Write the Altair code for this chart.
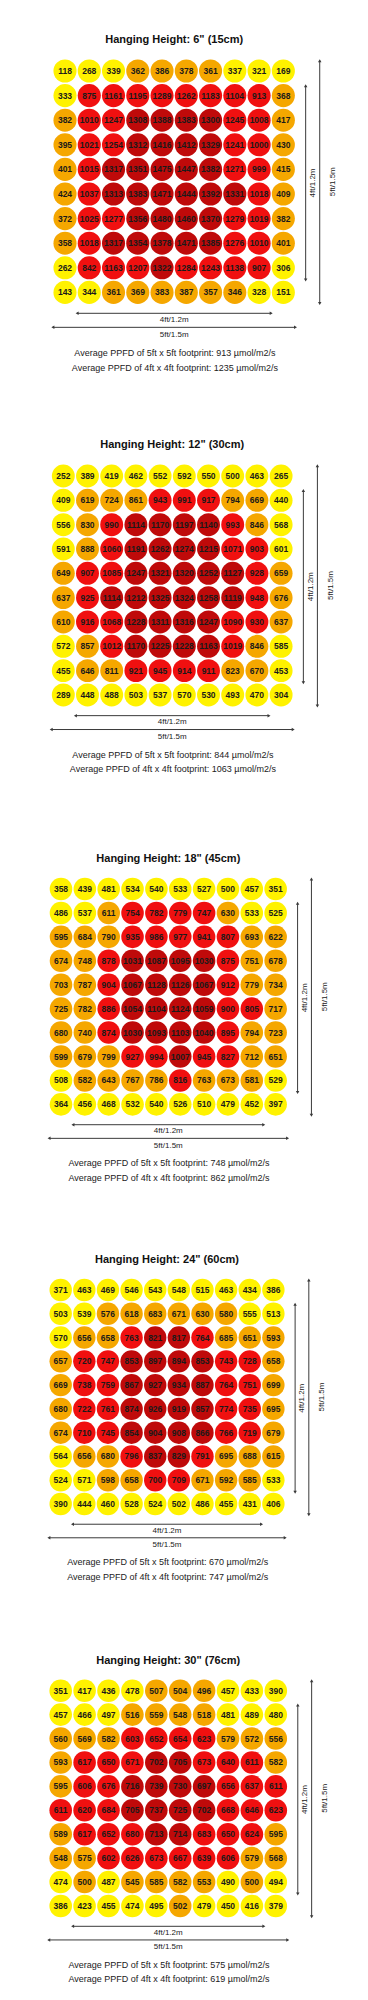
import altair as alt
import pandas as pd

FONT = "Liberation Sans"

TITLES = ['Hanging Height: 6" (15cm)', 'Hanging Height: 12" (30cm)',
          'Hanging Height: 18" (45cm)', 'Hanging Height: 24" (60cm)',
          'Hanging Height: 30" (76cm)']
AVG_5FT = [913, 844, 748, 670, 575]
AVG_4FT = [1235, 1063, 862, 747, 619]

PPFD_6IN = [
    [118, 268, 339, 362, 386, 378, 361, 337, 321, 169],
    [333, 875, 1161, 1195, 1289, 1262, 1183, 1104, 913, 368],
    [382, 1010, 1247, 1308, 1388, 1383, 1300, 1245, 1008, 417],
    [395, 1021, 1254, 1312, 1416, 1412, 1329, 1241, 1000, 430],
    [401, 1015, 1317, 1351, 1475, 1447, 1382, 1271, 999, 415],
    [424, 1037, 1313, 1383, 1471, 1444, 1392, 1331, 1018, 409],
    [372, 1025, 1277, 1356, 1480, 1460, 1370, 1279, 1019, 382],
    [358, 1018, 1317, 1354, 1378, 1471, 1385, 1276, 1010, 401],
    [262, 842, 1163, 1207, 1322, 1284, 1243, 1138, 907, 306],
    [143, 344, 361, 369, 383, 387, 357, 346, 328, 151],
]
LEVEL_6IN = ["0001111000", "0222222221", "1223333221", "1223333221", "1233333221",
             "1233333321", "1223333221", "1233333221", "0222322220", "0011111100"]

PPFD_12IN = [
    [252, 389, 419, 462, 552, 592, 550, 500, 463, 265],
    [409, 619, 724, 861, 943, 991, 917, 794, 669, 440],
    [556, 830, 990, 1114, 1170, 1197, 1140, 993, 846, 568],
    [591, 888, 1060, 1191, 1262, 1274, 1215, 1071, 903, 601],
    [649, 907, 1085, 1247, 1321, 1320, 1252, 1127, 928, 659],
    [637, 925, 1114, 1212, 1325, 1324, 1258, 1119, 948, 676],
    [610, 916, 1068, 1228, 1311, 1316, 1247, 1090, 930, 637],
    [572, 857, 1012, 1170, 1225, 1228, 1163, 1019, 846, 585],
    [455, 646, 811, 921, 945, 914, 911, 823, 670, 453],
    [289, 448, 488, 503, 537, 570, 530, 493, 470, 304],
]
LEVEL_12IN = ["0000000000", "0111222110", "0123333210", "0123333220", "1223333321",
              "1233333321", "1223333221", "0123333210", "0112222110", "0000000000"]

PPFD_18IN = [
    [358, 439, 481, 534, 540, 533, 527, 500, 457, 351],
    [486, 537, 611, 754, 782, 779, 747, 630, 533, 525],
    [595, 684, 790, 935, 986, 977, 941, 807, 693, 622],
    [674, 748, 878, 1031, 1087, 1095, 1030, 875, 751, 678],
    [703, 787, 904, 1067, 1128, 1126, 1067, 912, 779, 734],
    [725, 782, 886, 1054, 1104, 1124, 1059, 900, 805, 717],
    [680, 740, 874, 1030, 1093, 1103, 1040, 895, 794, 723],
    [599, 679, 799, 927, 994, 1007, 945, 827, 712, 651],
    [508, 582, 643, 767, 786, 816, 763, 673, 581, 529],
    [364, 456, 468, 532, 540, 526, 510, 479, 452, 397],
]
LEVEL_18IN = ["0000000000", "0012222100", "1112222211", "1123333211", "1123333211",
              "1123333221", "1123333211", "1112232211", "0111121110", "0000000000"]

PPFD_24IN = [
    [371, 463, 469, 546, 543, 548, 515, 463, 434, 386],
    [503, 539, 576, 618, 683, 671, 630, 580, 555, 513],
    [570, 656, 658, 763, 821, 817, 764, 685, 651, 593],
    [657, 720, 747, 853, 897, 894, 853, 743, 728, 658],
    [669, 738, 759, 867, 927, 934, 887, 764, 751, 699],
    [680, 722, 761, 874, 926, 919, 857, 774, 735, 695],
    [674, 710, 745, 854, 904, 908, 866, 766, 719, 679],
    [564, 656, 680, 796, 837, 829, 791, 695, 688, 615],
    [524, 571, 598, 658, 700, 709, 671, 592, 585, 533],
    [390, 444, 460, 528, 524, 502, 486, 455, 431, 406],
]
LEVEL_24IN = ["0000000000", "0011111100", "0112332111", "1223333221", "1223333221",
              "1223333221", "1223333221", "0112332111", "0011221110", "0000000000"]

PPFD_30IN = [
    [351, 417, 436, 478, 507, 504, 496, 457, 433, 390],
    [457, 466, 497, 516, 559, 548, 518, 481, 489, 480],
    [560, 569, 582, 603, 652, 654, 623, 579, 572, 556],
    [593, 617, 650, 671, 702, 705, 673, 640, 611, 582],
    [595, 606, 676, 716, 739, 730, 697, 656, 637, 611],
    [611, 620, 684, 705, 737, 725, 702, 668, 646, 623],
    [589, 617, 652, 680, 713, 714, 683, 650, 624, 595],
    [548, 575, 602, 626, 673, 667, 639, 606, 579, 568],
    [474, 500, 487, 545, 585, 582, 553, 490, 500, 494],
    [386, 423, 455, 474, 495, 502, 479, 450, 416, 379],
]
LEVEL_30IN = ["0000111000", "0001111000", "1112222111", "1222332221", "1223333222",
              "2223333222", "1222332221", "1122222211", "0101111010", "0000010000"]

PPFD = [PPFD_6IN, PPFD_12IN, PPFD_18IN, PPFD_24IN, PPFD_30IN]
LEVELS = [LEVEL_6IN, LEVEL_12IN, LEVEL_18IN, LEVEL_24IN, LEVEL_30IN]

LEVEL_COLORS = ["#fff200", "#f5a700", "#f01010", "#bf0a0a"]

# panel geometry (pixels): grid origin, cell spacing, panel top and height
LAYOUT = [
    dict(x0=65.0, sx=24.26, y0=71.0, sy=24.6, top=8, h=412),
    dict(x0=63.3, sx=24.2, y0=476.0, sy=24.33, top=420, h=410),
    dict(x0=61.0, sx=23.85, y0=889.0, sy=23.93, top=830, h=395),
    dict(x0=60.7, sx=23.63, y0=1290.0, sy=23.78, top=1225, h=400),
    dict(x0=60.7, sx=23.9, y0=1690.7, sy=23.92, top=1625, h=367),
]
PANEL_W = 352

# dimension arrows in grid units
ARROWS = pd.DataFrame([
    {"x": 0.5, "x2": 8.5, "y": 9.85, "y2": 9.85},
    {"x": -0.5, "x2": 9.5, "y": 10.42, "y2": 10.42},
    {"x": 9.92, "x2": 9.92, "y": 0.6, "y2": 8.5},
    {"x": 10.5, "x2": 10.5, "y": -0.42, "y2": 9.45},
])
HEADS = pd.DataFrame([
    {"x": 0.5, "y": 9.85, "shape": "triangle-left"},
    {"x": 8.5, "y": 9.85, "shape": "triangle-right"},
    {"x": -0.5, "y": 10.42, "shape": "triangle-left"},
    {"x": 9.5, "y": 10.42, "shape": "triangle-right"},
    {"x": 9.92, "y": 0.6, "shape": "triangle-up"},
    {"x": 9.92, "y": 8.5, "shape": "triangle-down"},
    {"x": 10.5, "y": -0.42, "shape": "triangle-up"},
    {"x": 10.5, "y": 9.45, "shape": "triangle-down"},
])
H_LABELS = pd.DataFrame([
    {"x": 4.5, "y": 10.13, "t": "4ft/1.2m"},
    {"x": 4.5, "y": 10.73, "t": "5ft/1.5m"},
])
V_LABELS = pd.DataFrame([
    {"x": 10.23, "y": 4.55, "t": "4ft/1.2m"},
    {"x": 11.05, "y": 4.5, "t": "5ft/1.5m"},
])


def panel(i):
    g = LAYOUT[i]
    xa = -(g["x0"] - 8) / g["sx"]
    xb = xa + PANEL_W / g["sx"]
    ya = -(g["y0"] - g["top"]) / g["sy"]
    yb = ya + g["h"] / g["sy"]
    xs = alt.Scale(domain=[xa, xb], nice=False, zero=False)
    ys = alt.Scale(domain=[ya, yb], nice=False, zero=False, reverse=True)
    X = lambda f="x": alt.X(f"{f}:Q", scale=xs, axis=None)
    Y = lambda f="y": alt.Y(f"{f}:Q", scale=ys, axis=None)

    cells = pd.DataFrame([
        {"x": c, "y": r, "v": PPFD[i][r][c], "lvl": int(LEVELS[i][r][c])}
        for r in range(10) for c in range(10)
    ])
    d = 0.945 * (g["sx"] + g["sy"]) / 2

    circles = alt.Chart(cells).mark_circle(size=d * d, opacity=1).encode(
        x=X(), y=Y(),
        color=alt.Color("lvl:O", scale=alt.Scale(domain=[0, 1, 2, 3], range=LEVEL_COLORS), legend=None),
    )
    nums = alt.Chart(cells).mark_text(fontSize=8.5, fontWeight="bold", font=FONT, color="#1a1a1a").encode(
        x=X(), y=Y(), text=alt.Text("v:Q", format="d")
    )
    rules = alt.Chart(ARROWS).mark_rule(color="#3a3a3a", strokeWidth=1).encode(
        x=X(), x2="x2:Q", y=Y(), y2="y2:Q"
    )
    heads = alt.Chart(HEADS).mark_point(filled=True, size=12, color="#3a3a3a", opacity=1).encode(
        x=X(), y=Y(), shape=alt.Shape("shape:N", scale=None, legend=None)
    )
    hl = alt.Chart(H_LABELS).mark_text(fontSize=8, font=FONT, color="#222222").encode(
        x=X(), y=Y(), text="t:N"
    )
    vl = alt.Chart(V_LABELS).mark_text(fontSize=8, font=FONT, color="#222222", angle=270).encode(
        x=X(), y=Y(), text="t:N"
    )
    info = pd.DataFrame([
        {"x": 4.5, "y": -1.26, "t": TITLES[i], "kind": "title"},
        {"x": 4.53, "y": 11.45, "t": f"Average PPFD of 5ft x 5ft footprint: {AVG_5FT[i]} \u00b5mol/m2/s", "kind": "avg"},
        {"x": 4.53, "y": 12.06, "t": f"Average PPFD of 4ft x 4ft footprint: {AVG_4FT[i]} \u00b5mol/m2/s", "kind": "avg"},
    ])
    title = alt.Chart(info[info.kind == "title"]).mark_text(
        fontSize=11, fontWeight="bold", font=FONT, color="#111111"
    ).encode(x=X(), y=Y(), text="t:N")
    avg = alt.Chart(info[info.kind == "avg"]).mark_text(
        fontSize=9, font=FONT, color="#222222"
    ).encode(x=X(), y=Y(), text="t:N")

    return alt.layer(circles, nums, rules, heads, hl, vl, title, avg).properties(
        width=PANEL_W, height=g["h"]
    )


chart = alt.vconcat(*[panel(i) for i in range(5)], spacing=0).properties(
    padding=0, background="white"
).configure(font=FONT).configure_view(stroke=None, strokeWidth=0)

chart.save("out.html", embed_options={"renderer": "svg", "actions": False})
